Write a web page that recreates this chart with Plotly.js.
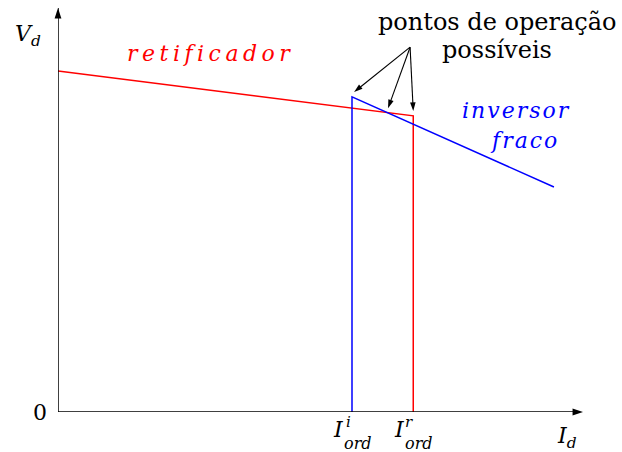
<!DOCTYPE html>
<html>
<head>
<meta charset="utf-8">
<script src="https://cdn.plot.ly/plotly-3.0.1.min.js"></script>
<style>
  html, body { margin: 0; padding: 0; background: #fff; }
  #chart { width: 622px; height: 452px; }
</style>
</head>
<body>
<div id="chart"></div>
<script>
// Rectifier characteristic (I_d, V_d): sloped line, then vertical at I_ord^r
const retificadorI = [0, 10.15, 10.15];
const retificadorV = [8.44, 7.33, 0];

// Weak inverter characteristic: vertical at I_ord^i, then sloped line
const inversorI = [8.4, 8.4, 14.17];
const inversorV = [0, 7.80, 5.57];

// Tips of the arrows pointing at the possible operating points
const setaI = [8.46, 9.43, 10.15];
const setaV = [7.92, 7.52, 7.45];

// Common origin of the three pointer arrows
const origemSetaI = 10.06;
const origemSetaV = 9.03;

// Current order positions on the I_d axis
const ordensI = [8.4, 10.15];
const ordensSup = ['i', 'r'];

// Axis extents
const eixoI = [0, 15];
const eixoV = [0, 10];

const serif = 'DejaVu Serif';

function seta(xs, ys, width, size) {
  return {
    x: xs, y: ys, type: 'scatter', mode: 'lines+markers',
    line: { color: '#000', width: width },
    marker: { symbol: 'arrow', size: size, color: '#000', angleref: 'previous',
              line: { width: 0 } },
    hoverinfo: 'skip', cliponaxis: false
  };
}

const traces = [
  {
    x: retificadorI, y: retificadorV, type: 'scatter', mode: 'lines',
    line: { color: '#ff0000', width: 1.5 }, hoverinfo: 'skip', cliponaxis: false
  },
  {
    x: inversorI, y: inversorV, type: 'scatter', mode: 'lines',
    line: { color: '#0000ff', width: 1.5 }, hoverinfo: 'skip', cliponaxis: false
  },
  // axes with arrow tips
  seta([0, eixoI[1]], [0, 0], 1.5, 11),
  seta([0, 0], [0, eixoV[1]], 1.5, 11)
];

// pointer arrows
setaI.forEach((si, k) => {
  traces.push(seta([origemSetaI, si], [origemSetaV, setaV[k]], 1.1, 9));
});

const annotations = [];
function rotulo(x, y, text, size, color, dx, dy) {
  annotations.push({
    x: x, y: y, xref: 'x', yref: 'y', xanchor: 'center', yanchor: 'middle',
    xshift: dx || 0, yshift: dy || 0, showarrow: false,
    text: text, font: { family: serif, size: size, color: color || '#000' }
  });
}

// Axis labels
rotulo(0, eixoV[1], '<i>V</i><sub><i>d</i></sub>', 22, '#000', -30, -27);
rotulo(0, 0, '0', 22, '#000', -18, 0);
rotulo(eixoI[1], 0, '<i>I</i><sub><i>d</i></sub>', 22, '#000', -16, -25);

// I_ord tick labels
ordensI.forEach((oi, k) => {
  rotulo(oi, 0, '<i>I</i>', 22, '#000', -14, -17);
  rotulo(oi, 0, '<i>' + ordensSup[k] + '</i>', 15, '#000', -4, -10);
  rotulo(oi, 0, '<i>ord</i>', 16, '#000', 6, -31);
});

// Curve names
rotulo(4.38, 8.88, '<i>retificador</i>', 22, '#ff0000');
rotulo(13.11, 7.47, '<i>inversor</i>', 22, '#0000ff');
rotulo(13.34, 6.73, '<i>fraco</i>', 22, '#0000ff');

// Operating points caption
rotulo(12.57, 9.66, 'pontos de operação', 24);
rotulo(12.54, 8.96, 'possíveis', 24);

const layout = {
  width: 622, height: 452,
  margin: { l: 58, r: 39, t: 8, b: 40 },
  paper_bgcolor: '#fff', plot_bgcolor: '#fff',
  showlegend: false,
  xaxis: { range: eixoI, visible: false, fixedrange: true },
  yaxis: { range: eixoV, visible: false, fixedrange: true },
  annotations: annotations
};

Plotly.newPlot('chart', traces, layout, { displayModeBar: false, staticPlot: true })
  .then(gd => {
    // math-italic style spacing for the curve names
    const espacos = { retificador: '4.5px', inversor: '2px', fraco: '2px' };
    gd.querySelectorAll('.annotation-text').forEach(t => {
      if (espacos[t.textContent]) t.style.letterSpacing = espacos[t.textContent];
    });
  });
</script>
</body>
</html>
